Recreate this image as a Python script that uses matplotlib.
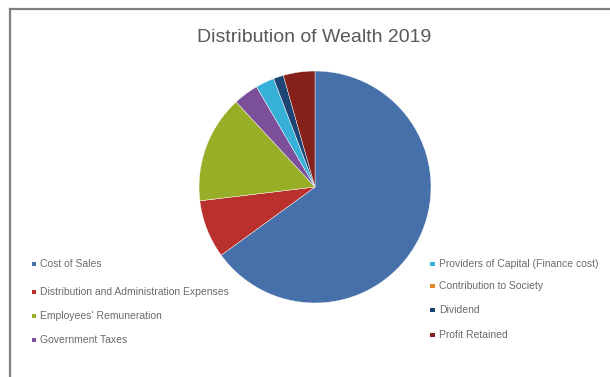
import matplotlib
matplotlib.use('Agg')
import matplotlib.pyplot as plt
from matplotlib.lines import Line2D
from matplotlib.patches import Rectangle

plt.rcParams['font.family'] = ['Liberation Sans', 'DejaVu Sans']

title = 'Distribution of Wealth 2019'
categories = ['Cost of Sales',
              'Distribution and Administration Expenses',
              "Employees' Remuneration",
              'Government Taxes',
              'Providers of Capital (Finance cost)',
              'Contribution to Society',
              'Dividend',
              'Profit Retained']
shares = [65.0, 8.1, 15.0, 3.5, 2.6, 0.0, 1.4, 4.4]
colours = ['#4670a9', '#b9302c', '#98ae26', '#7b4f9a',
           '#36b0d8', '#e6862c', '#1c4474', '#85201a']

W, H = 610, 377
fig = plt.figure(figsize=(W / 100, H / 100), dpi=100)

# pie: centre (315, 187) px, radius 116 px
cx, cy, r = 315, 187, 116
ax = fig.add_axes([(cx - r) / W, (H - cy - r) / H, 2 * r / W, 2 * r / H])
ax.pie(shares, colors=colours, startangle=90, counterclock=False, radius=1,
       wedgeprops=dict(edgecolor='white', linewidth=0.3))
ax.set_xlim(-1, 1)
ax.set_ylim(-1, 1)
ax.set_aspect('equal')
ax.axis('off')

fig.text(314 / W, 1 - 37 / H, title, ha='center', va='center',
         fontsize=14, color='#595959')

# legend, two columns laid out by hand
left_rows = [264, 292, 316, 340]
right_rows = [264, 286, 310, 335]
columns = [(31.5, 40, left_rows), (430, 439, right_rows)]
sq = 4.5
for col, (mx, tx, rows) in enumerate(columns):
    for i, y in enumerate(rows):
        k = col * 4 + i
        fig.patches.append(Rectangle((mx / W, 1 - (y + sq / 2) / H), sq / W, sq / H,
                                     transform=fig.transFigure,
                                     facecolor=colours[k], edgecolor='none'))
        fig.text(tx / W, 1 - y / H, categories[k], ha='left', va='center',
                 fontsize=7.5, color='#6b6b6b')

# frame on the top and left edges
frame = '#808080'
fig.add_artist(Line2D([10 / W, 1], [1 - 8.5 / H, 1 - 8.5 / H],
                      transform=fig.transFigure, color=frame, linewidth=1.6))
fig.add_artist(Line2D([10 / W, 10 / W], [0, 1 - 8.5 / H],
                      transform=fig.transFigure, color=frame, linewidth=1.6))

fig.savefig('out.png', dpi=100)
